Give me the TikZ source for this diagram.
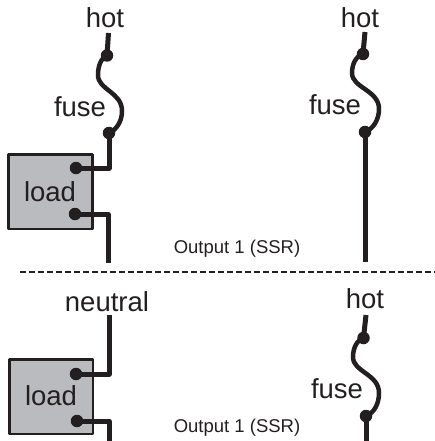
\documentclass[tikz,border=0pt]{standalone}
\usepackage{fontspec}
\setmainfont{Liberation Sans}
\definecolor{ink}{HTML}{231F20}
\definecolor{boxgrey}{HTML}{B9BBBE}
\tikzset{
  wire/.style={draw=ink,line width=5pt,line join=round},
  fusewire/.style={draw=ink,line width=4.5pt},
  dot/.style={circle,fill=ink,inner sep=0pt,minimum size=12.5pt},
  loadbox/.style={draw=ink,line width=2.2pt,fill=boxgrey,line join=round},
  lbl/.style={text=ink,inner sep=0pt,font=\fontsize{27.5}{27.5}\selectfont},
  small/.style={text=ink,inner sep=0pt,font=\fontsize{18.5}{18.5}\selectfont}
}
\begin{document}
\begin{tikzpicture}[x=1pt,y=-1pt]
\useasboundingbox (0,0) rectangle (435,441);
% top left
\path[loadbox] (8.5,154.5) rectangle (92.5,229);
\node[lbl] (load1) at (50,192) {load};
\node[lbl] (hot1) at (105,18) {hot};
\node[lbl] (fuse1) at (80,107) {fuse};
\node[small] (out1) at (237,248.5) {Output 1 (SSR)};
\coordinate (t1) at (108.5,33);
\node[dot] (a1) at (107,55.5) {};
\node[dot] (b1) at (109,133) {};
\node[dot] (c1) at (76,168) {};
\node[dot] (d1) at (75,214) {};
\coordinate (e1) at (109,168);
\coordinate (f1) at (108,214);
\coordinate (g1) at (108,263);
\draw[wire] (t1) -- (a1.center);
\draw[fusewire] (a1.center) .. controls (101,58) and (98,66) .. (98,75)
  .. controls (98,90) and (122,92) .. (122,111)
  .. controls (122,122) and (116,130) .. (b1.center);
\draw[wire] (b1.center) -- (e1) -- (c1.center);
\draw[wire] (d1.center) -- (f1) -- (g1);
% top right
\node[lbl] (hot2) at (360,18) {hot};
\node[lbl] (fuse2) at (335,105) {fuse};
\coordinate (t2) at (365,32);
\node[dot] (a2) at (363,54) {};
\node[dot] (b2) at (365,132) {};
\coordinate (g2) at (365,262);
\draw[wire] (t2) -- (a2.center);
\draw[fusewire] (a2.center) .. controls (356,56) and (352,64) .. (352,73)
  .. controls (352,88) and (379,90) .. (379,109)
  .. controls (379,120) and (373,129) .. (b2.center);
\draw[wire] (b2.center) -- (g2);
% divider
\coordinate (l0) at (20,272);
\coordinate (l1) at (435,272);
\draw[draw=ink,line width=1.8pt,dash pattern=on 5.5pt off 3.5pt] (l0) -- (l1);
% bottom left
\path[loadbox] (9.5,359.5) rectangle (93,434);
\node[lbl] (load2) at (51,396) {load};
\node[lbl] (neutral) at (107,302) {neutral};
\node[small] (out2) at (237,428) {Output 1 (SSR)};
\coordinate (t3) at (109,315);
\node[dot] (c3) at (76,374) {};
\node[dot] (d3) at (77,421) {};
\coordinate (e3) at (109,374);
\coordinate (f3) at (109,421);
\coordinate (g3) at (109,441);
\draw[wire] (t3) -- (e3) -- (c3.center);
\draw[wire] (d3.center) -- (f3) -- (g3);
% bottom right
\node[lbl] (hot4) at (365,299) {hot};
\node[lbl] (fuse4) at (337,389) {fuse};
\coordinate (t4) at (366,315);
\node[dot] (a4) at (363.5,338) {};
\node[dot] (b4) at (366,416) {};
\coordinate (g4) at (366,441);
\draw[wire] (t4) -- (a4.center);
\draw[fusewire] (a4.center) .. controls (357,340) and (353,348) .. (353,357)
  .. controls (353,372) and (379,374) .. (379,393)
  .. controls (379,404) and (374,413) .. (b4.center);
\draw[wire] (b4.center) -- (g4);
\end{tikzpicture}
\end{document}
